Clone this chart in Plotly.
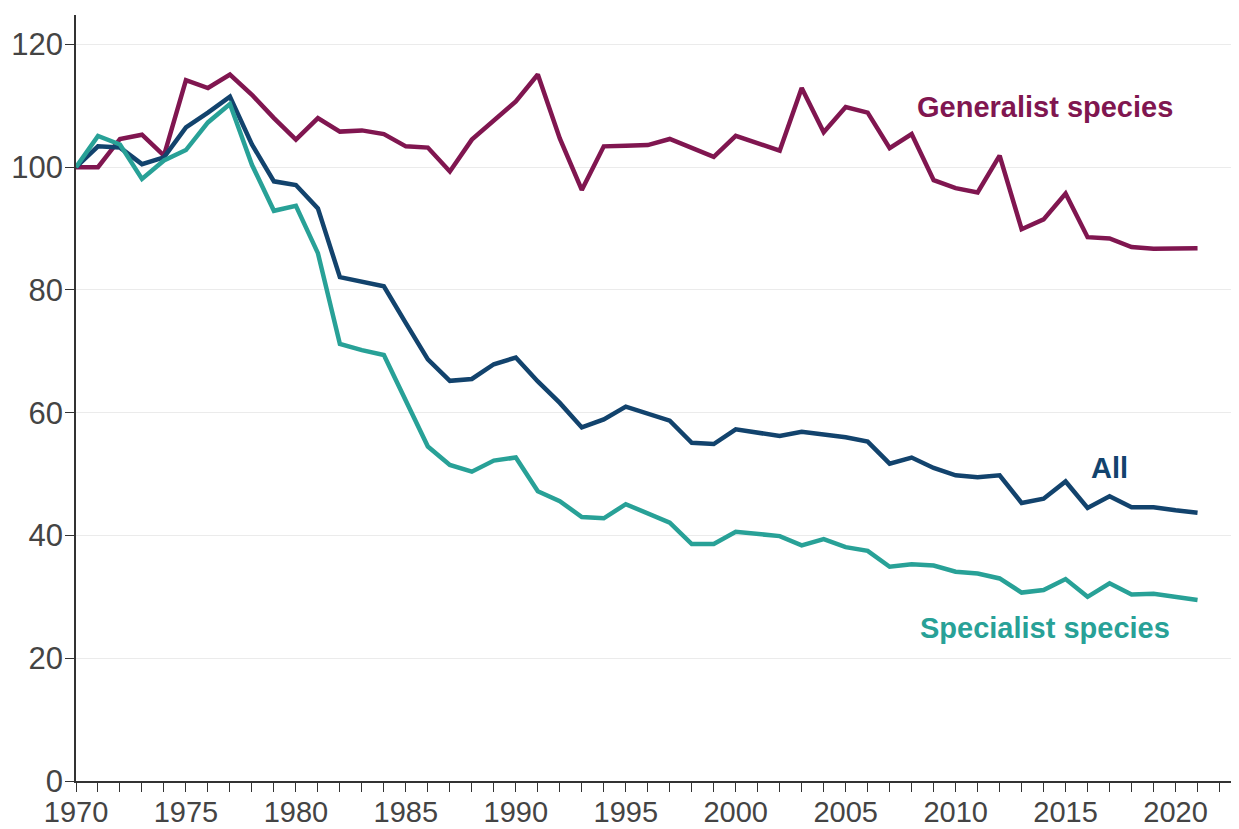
import plotly.graph_objects as go

years = list(range(1970, 2022))

generalist = [
    100.0, 100.0, 104.6, 105.3, 101.9, 114.2, 112.9, 115.1, 111.8, 108.0,
    104.5, 108.0, 105.8, 106.0, 105.4, 103.4, 103.2, 99.3, 104.5, 107.5,
    110.7, 115.1, 104.7, 96.3, 103.4, 103.5, 103.6, 104.6, 103.1, 101.7,
    105.1, 103.9, 102.7, 112.9, 105.7, 109.8, 108.9, 103.1, 105.4, 97.9,
    96.6, 95.9, 101.9, 89.9, 91.5, 95.7, 88.6, 88.4, 87.0, 86.7,
    86.8, 86.8,
]
all_species = [
    100.0, 103.4, 103.2, 100.5, 101.6, 106.5, 108.9, 111.5, 103.7, 97.7,
    97.1, 93.3, 82.1, 81.4, 80.6, 74.6, 68.7, 65.2, 65.5, 67.9,
    69.0, 65.1, 61.6, 57.6, 58.9, 61.0, 59.9, 58.7, 55.1, 54.9,
    57.3, 56.8, 56.2, 56.9, 56.4, 56.0, 55.3, 51.7, 52.7, 51.0,
    49.8, 49.5, 49.8, 45.3, 46.0, 48.8, 44.5, 46.4, 44.6, 44.6,
    44.1, 43.7,
]
specialist = [
    100.0, 105.1, 103.7, 98.1, 101.1, 102.8, 107.3, 110.3, 100.4, 92.9,
    93.7, 86.0, 71.2, 70.2, 69.4, 61.8, 54.5, 51.5, 50.4, 52.2,
    52.7, 47.2, 45.6, 43.0, 42.8, 45.1, 43.6, 42.1, 38.6, 38.6,
    40.6, 40.3, 39.9, 38.4, 39.4, 38.1, 37.5, 34.9, 35.3, 35.1,
    34.1, 33.8, 33.0, 30.7, 31.1, 32.9, 30.0, 32.2, 30.4, 30.5,
    30.0, 29.5,
]

series = [
    ("Generalist species", generalist, "#801650", 2014.07, 109.8),
    ("All", all_species, "#12436D", 2017.0, 51.0),
    ("Specialist species", specialist, "#28A197", 2014.07, 24.9),
]

fig = go.Figure()

for name, values, color, lx, ly in series:
    fig.add_trace(go.Scatter(
        x=years, y=values, mode="lines", name=name,
        line=dict(color=color, width=4.5), showlegend=False,
    ))
    fig.add_annotation(
        x=lx, y=ly, text=f"<b>{name}</b>", showarrow=False,
        font=dict(color=color, size=29, family="Liberation Sans, Arial"),
    )

# page body has an 8px margin, so the figure is a bit smaller than the window
fig.update_xaxes(
    range=[1970, 2022.84], dtick=5, tick0=1970, automargin=False,
    ticks="outside", ticklen=9, tickcolor="#333", tickwidth=1,
    ticklabelstandoff=-5,
    minor=dict(dtick=1, ticks="outside", ticklen=9, tickcolor="#333"),
    showline=True, linecolor="#333", linewidth=1.5,
    showgrid=False, zeroline=False,
    tickfont=dict(size=29, color="#444"),
)
fig.update_yaxes(
    range=[0, 124.8], dtick=20, automargin=False,
    ticks="outside", ticklen=9, tickcolor="#333", tickwidth=1,
    ticklabelstandoff=-4,
    showline=True, linecolor="#333", linewidth=1.5,
    showgrid=True, gridcolor="#ebebeb", gridwidth=1, zeroline=False,
    tickfont=dict(size=31, color="#444"),
)
fig.update_layout(
    width=1231, height=821,
    margin=dict(l=68, r=1, t=7, b=48),
    plot_bgcolor="white", paper_bgcolor="white",
    font=dict(family="Liberation Sans, Arial"),
)

fig.write_html("out.html")
